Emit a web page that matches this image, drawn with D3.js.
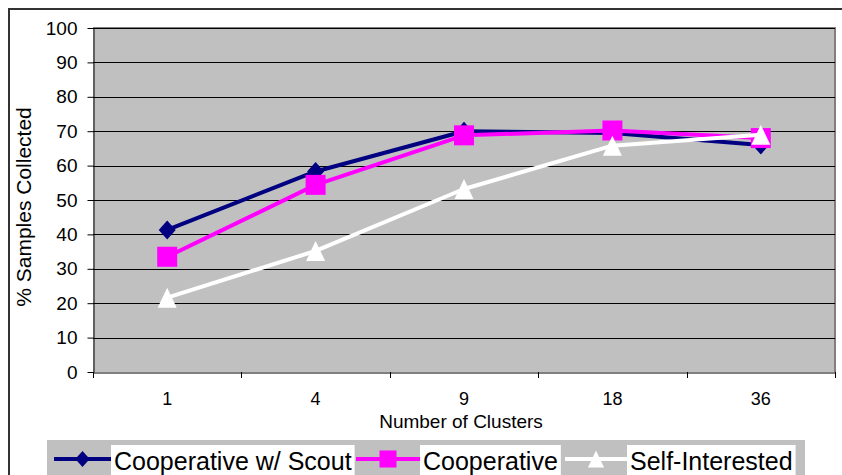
<!DOCTYPE html>
<html><head><meta charset="utf-8">
<script src="https://cdn.jsdelivr.net/npm/d3@7"></script>
<style>body{margin:0;background:#fff}svg{display:block}text{font-family:"Liberation Sans",Arial,sans-serif;fill:#000}</style>
</head><body><svg id="c" width="842" height="475"></svg>
<script>
const categories = ["1","4","9","18","36"];
const scoutValues = [41.3, 58.3, 70.0, 69.5, 66.0];
const coopValues = [33.5, 54.4, 68.8, 70.2, 68.0];
const selfValues = [21.6, 35.2, 53.2, 65.8, 69.0];
const yTicks = [0,10,20,30,40,50,60,70,80,90,100];
const seriesNames = ["Cooperative w/ Scout","Cooperative","Self-Interested"];
const seriesColors = ["#000080","#FF00FF","#FFFFFF"];
const seriesMarkers = ["diamond","square","triangle"];
const xTitle = "Number of Clusters";
const yTitle = "% Samples Collected";

const svg = d3.select("#c");
const L=93, R=835, T=28, B=372;
const x = d3.scaleBand().domain(categories).range([L,R]).padding(0);
const y = d3.scaleLinear().domain([0,100]).range([B,T]);

// outer border
svg.append("path").attr("d","M9,475 L9,9 L842,9").attr("fill","none").attr("stroke","#333").attr("stroke-width",2);

// plot area
svg.append("rect").attr("x",L).attr("y",T).attr("width",R-L).attr("height",B-T).attr("fill","#C0C0C0");
svg.append("path").attr("d",`M${L},${T} L${R},${T} L${R},${B}`).attr("fill","none").attr("stroke","#808080").attr("stroke-width",2);

// gridlines
svg.append("g").selectAll("line").data(yTicks.filter(d=>d>0)).join("line")
  .attr("x1",L).attr("x2",R).attr("y1",d=>Math.round(y(d))+0.5).attr("y2",d=>Math.round(y(d))+0.5)
  .attr("stroke","#000").attr("stroke-width",1);

// y axis
const ya = svg.append("g").attr("transform",`translate(${L+0.5},0)`)
  .call(d3.axisLeft(y).tickValues(yTicks).tickSize(6).tickPadding(10).tickSizeOuter(0));
ya.select(".domain").attr("stroke","#000");
ya.selectAll(".tick line").attr("stroke","#000");
ya.selectAll(".tick text").style("font-size","19px").attr("font-family",null);

// x axis
const xa = svg.append("g").attr("transform",`translate(0,${B+0.5})`)
  .call(d3.axisBottom(x).tickSize(0).tickPadding(20).tickSizeOuter(0));
xa.select(".domain").attr("stroke","#000");
xa.selectAll(".tick text").style("font-size","18px").attr("font-family",null);
// boundary ticks
const bounds = categories.map(c=>x(c)).concat([R]);
svg.append("g").selectAll("line").data(bounds).join("line")
  .attr("x1",d=>Math.round(d)+0.5).attr("x2",d=>Math.round(d)+0.5).attr("y1",B).attr("y2",B+6)
  .attr("stroke","#000");

svg.append("text").attr("x",461).attr("y",428).attr("text-anchor","middle").style("font-size","19px").text(xTitle);
svg.append("text").attr("transform",`translate(31,207) rotate(-90)`).attr("text-anchor","middle").style("font-size","21px").text(yTitle);

function markerPath(type){
  if(type==="diamond") return "M0,-9.5 L8.5,0 L0,9.5 L-8.5,0 Z";
  if(type==="square") return "M-10,-10 H10 V10 H-10 Z";
  return "M0,-10 L9.5,10 L-9.5,10 Z";
}
const allValues = [scoutValues, coopValues, selfValues];
const line = d3.line().x((d,i)=>x(categories[i])+x.bandwidth()/2).y(d=>y(d));
allValues.forEach((vals,k)=>{
  const g = svg.append("g");
  g.append("path").attr("d",line(vals)).attr("fill","none").attr("stroke",seriesColors[k]).attr("stroke-width",4).attr("stroke-linejoin","round");
  g.selectAll("path.m").data(vals).join("path").attr("class","m")
    .attr("transform",(d,i)=>`translate(${x(categories[i])+x.bandwidth()/2},${y(d)})`)
    .attr("d",markerPath(seriesMarkers[k])).attr("fill",seriesColors[k]);
});

// legend
const lg = svg.append("g");
lg.append("rect").attr("x",47).attr("y",440).attr("width",758).attr("height",40).attr("fill","#C0C0C0");
const legLine = [[54,111],[356,420],[565,627]];
const legY = 459;
seriesNames.forEach((n,k)=>{
  const [x0,x1] = legLine[k];
  lg.append("line").attr("x1",x0).attr("x2",x1).attr("y1",legY).attr("y2",legY).attr("stroke",seriesColors[k]).attr("stroke-width",4);
  lg.append("path").attr("transform",`translate(${(x0+x1)/2},${legY}) scale(0.85)`).attr("d",markerPath(seriesMarkers[k])).attr("fill",seriesColors[k]);
  const t = lg.append("text").attr("x",x1+3).attr("y",470).style("font-size","25px").text(n);
  const w = t.node().getComputedTextLength();
  lg.insert("rect","text").attr("x",x1).attr("y",445).attr("width",w+6).attr("height",35).attr("fill","#fff");
});
</script></body></html>
